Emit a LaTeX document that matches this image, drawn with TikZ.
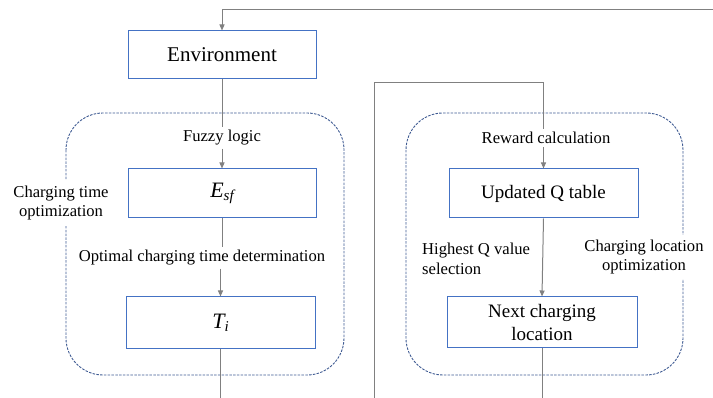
\documentclass[tikz,border=0pt]{standalone}
\usepackage{fontspec}
\setmainfont{Liberation Serif}
\usetikzlibrary{arrows.meta}
\definecolor{boxblue}{HTML}{4472C4}
\definecolor{linegray}{HTML}{808080}
\definecolor{dashblue}{HTML}{3E5A92}
% italic variable with an italic subscript, set in the text face
\newcommand{\ivar}[2]{{\itshape #1\raisebox{-0.3ex}{\fontsize{15}{15}\selectfont #2}}}
\begin{document}
\begin{tikzpicture}[x=1pt,y=-1pt,
  stepbox/.style={draw=boxblue,line width=1pt,minimum width=188pt,minimum height=49pt,
    inner sep=0pt,align=center,font=\fontsize{19}{23}\selectfont},
  lbl/.style={font=\fontsize{16.6}{19.5}\selectfont,inner sep=3pt},
  flow/.style={draw=linegray,line width=1pt},
  arr/.style={flow,-{Triangle[length=6pt,width=5pt]}},
  group/.style={draw=dashblue,line width=0.9pt,dash pattern=on 2.5pt off 1.3pt,rounded corners=37pt}]

\useasboundingbox (0,0) rectangle (713,398);

% dashed optimisation groups
\draw[group] (66,113) rectangle (344,375);
\draw[group] (406,113) rectangle (683,375);

% process boxes
\node[stepbox,font=\fontsize{21}{24}\selectfont,minimum height=48pt] (env) at (222,55) {Environment};
\node[stepbox,font=\fontsize{22}{24}\selectfont] (esf) at (222,193.5) {\ivar{E}{sf}};
\node[stepbox,font=\fontsize{22}{24}\selectfont,minimum width=189pt,minimum height=52pt] (ti) at (220.5,323) {\ivar{T}{i}};
\node[stepbox,minimum width=189pt] (qtab) at (543.5,193.5) {Updated Q table};
\node[stepbox,minimum width=190pt,minimum height=51pt] (next) at (542,322.5) {Next charging\\location};

% edge labels
\node[lbl] (fuzzy) at (222,138) {Fuzzy logic};
\node[lbl] (opt) at (202,258) {Optimal charging time determination};
\node[lbl] (reward) at (546,138) {Reward calculation};
\node[lbl,align=left,anchor=west] (high) at (419,259) {Highest Q value\\selection};

% group labels, breaking the dashed outline
\node[lbl,align=center,fill=white,inner ysep=6pt] (ctime) at (61,203) {Charging time\\optimization};
\node[lbl,align=center,fill=white,inner ysep=5pt] (cloc) at (644,257) {Charging location\\optimization};

% left chain
\coordinate (fbin) at (713,10);
\draw[arr] (fbin) -| (env.north);
\draw[flow] (env.south) -- (fuzzy.north);
\draw[arr] (fuzzy.south) -- (esf.north);
\draw[flow] (esf.south) -- (esf.south |- opt.north);
\draw[arr] (opt.south -| ti.north) -- (ti.north);
\coordinate (lout) at (220.5,398);
\draw[flow] (ti.south) -- (lout);

% right chain
\coordinate (rin) at (374,398);
\coordinate (rtop) at (374,83);
\draw[flow] (rin) -- (rtop) -| (reward.north -| qtab.north);
\draw[arr] (reward.south -| qtab.north) -- (qtab.north);
\draw[arr] (qtab.south) -- (next.north);
\coordinate (rout) at (542,398);
\draw[flow] (next.south) -- (rout);
\end{tikzpicture}
\end{document}
